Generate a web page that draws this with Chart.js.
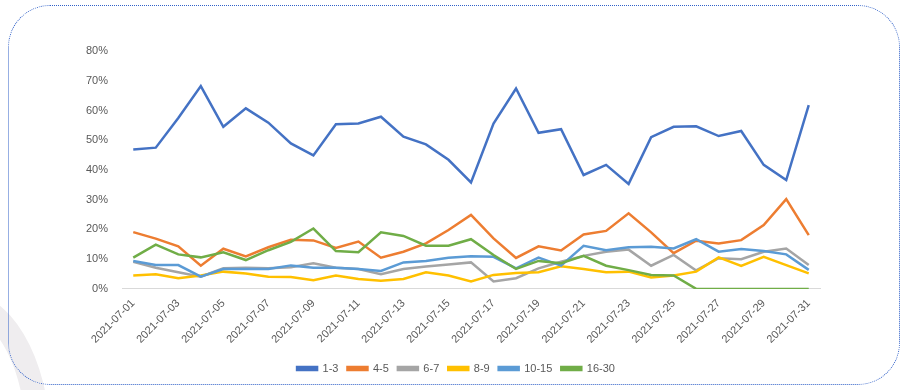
<!DOCTYPE html>
<html>
<head>
<meta charset="utf-8">
<script src="https://cdn.jsdelivr.net/npm/chart.js@4"></script>
<style>
	html, body { margin: 0; padding: 0; background: #fff; }
	body { width: 908px; height: 390px; position: relative; overflow: hidden; }
	#ring { position: absolute; left: -130px; top: 290px; width: 180px; height: 300px; border-radius: 50%; border: 24px solid #efedef; box-sizing: border-box; }
	#frame { position: absolute; left: 8px; top: 5px; width: 892px; height: 380px; box-sizing: border-box; border: 1.5px dotted #3060c8; border-radius: 42px; }
	#wrap { position: absolute; left: 0; top: 0; width: 908px; height: 390px; }
</style>
</head>
<body>
<div id="ring"></div>
<div id="frame"></div>
<div id="wrap"><canvas id="chart"></canvas></div>
<script>
// dates of july 2021
var days = ['2021-07-01','2021-07-02','2021-07-03','2021-07-04','2021-07-05','2021-07-06','2021-07-07','2021-07-08',
	'2021-07-09','2021-07-10','2021-07-11','2021-07-12','2021-07-13','2021-07-14','2021-07-15','2021-07-16',
	'2021-07-17','2021-07-18','2021-07-19','2021-07-20','2021-07-21','2021-07-22','2021-07-23','2021-07-24',
	'2021-07-25','2021-07-26','2021-07-27','2021-07-28','2021-07-29','2021-07-30','2021-07-31'];

// values in percent
var s1_3 = [46.9, 47.5, 57.5, 68.2, 54.5, 60.7, 55.9, 48.9, 44.9, 55.4, 55.6, 57.9, 51.2, 48.6, 43.4, 35.8,
	55.6, 67.4, 52.5, 53.7, 38.3, 41.7, 35.3, 51.0, 54.5, 54.7, 51.4, 53.1, 41.7, 36.6, 61.8];
var s4_5 = [19.1, 16.9, 14.3, 7.8, 13.5, 10.9, 14.0, 16.5, 16.3, 13.8, 15.9, 10.5, 12.5, 15.3, 19.8, 24.9,
	17.0, 10.4, 14.3, 12.9, 18.3, 19.5, 25.4, 19.0, 12.0, 16.2, 15.3, 16.4, 21.5, 30.2, 18.1];
var s6_7 = [9.1, 7.1, 5.6, 4.1, 6.9, 7.1, 6.9, 7.3, 8.6, 7.1, 6.7, 4.9, 6.7, 7.5, 8.2, 8.9,
	2.5, 3.6, 6.9, 9.1, 11.1, 12.5, 13.2, 7.8, 11.4, 6.2, 10.3, 10.0, 12.5, 13.6, 8.0];
var s8_9 = [4.5, 4.9, 3.6, 4.5, 5.8, 5.2, 4.1, 4.0, 2.9, 4.5, 3.3, 2.7, 3.3, 5.6, 4.5, 2.5,
	4.7, 5.3, 5.6, 7.6, 6.7, 5.6, 5.8, 3.8, 4.5, 5.8, 10.6, 7.7, 10.8, 8.0, 5.2];
var s10_15 = [9.4, 8.0, 8.0, 4.1, 6.7, 6.7, 6.7, 7.9, 7.1, 7.1, 6.7, 6.0, 8.9, 9.4, 10.5, 11.0,
	10.8, 6.9, 10.5, 7.8, 14.5, 13.0, 14.0, 14.2, 13.6, 16.7, 12.5, 13.4, 12.7, 11.6, 6.4];
var s16_30 = [10.5, 14.9, 11.6, 10.6, 12.3, 9.7, 13.0, 15.8, 20.3, 12.7, 12.3, 19.0, 17.8, 14.5, 14.5, 16.7,
	11.4, 6.7, 9.4, 8.6, 11.1, 7.8, 6.3, 4.7, 4.5, 0, 0, 0, 0, 0, 0];

var names = ['1-3', '4-5', '6-7', '8-9', '10-15', '16-30'];
var series = [s1_3, s4_5, s6_7, s8_9, s10_15, s16_30];
var colors = ['#4472C4', '#ED7D31', '#A5A5A5', '#FFC000', '#5B9BD5', '#70AD47'];

var textColor = '#595959';
var font = { family: '"Liberation Sans", Arial, sans-serif', size: 11 };

var datasets = series.map(function(vals, i) {
	return {
		label: names[i],
		data: vals,
		borderColor: colors[i],
		backgroundColor: colors[i],
		borderWidth: 2.5,
		pointRadius: 0,
		tension: 0,
		order: series.length - i   // first series drawn first, like the original
	};
});

var ctx = document.getElementById('chart').getContext('2d');
var chart = new Chart(ctx, {
	type: 'line',
	data: { labels: days, datasets: datasets },
	options: {
		responsive: true,
		maintainAspectRatio: false,
		animation: false,
		layout: { padding: { left: 60, right: 56, top: 51, bottom: 6 } },
		plugins: {
			tooltip: { enabled: false },
			legend: {
				position: 'bottom',
				reverse: true,
				labels: { boxWidth: 20, boxHeight: 3, padding: 9, color: textColor, font: font }
			}
		},
		scales: {
			x: {
				offset: true,
				grid: { display: false, drawTicks: false },
				border: { display: true, color: '#d9d9d9', width: 1 },
				ticks: {
					autoSkip: false,
					minRotation: 45,
					maxRotation: 45,
					padding: 8,
					color: textColor,
					font: font,
					callback: function(v, i) { return i % 2 === 0 ? this.getLabelForValue(v) : ''; }
				}
			},
			y: {
				min: 0,
				max: 80,
				grid: { display: false, drawTicks: false },
				border: { display: false },
				afterFit: function(scale) { scale.width = 62; },
				ticks: {
					stepSize: 10,
					padding: 14,
					color: textColor,
					font: font,
					callback: function(v) { return v + '%'; }
				}
			},
			// empty right side so the legend sits centred like the original
			yr: {
				position: 'right',
				min: 0,
				max: 80,
				grid: { display: false, drawTicks: false },
				border: { display: false },
				ticks: { display: false },
				afterFit: function(scale) { scale.width = 32; }
			}
		}
	}
});
</script>
</body>
</html>
